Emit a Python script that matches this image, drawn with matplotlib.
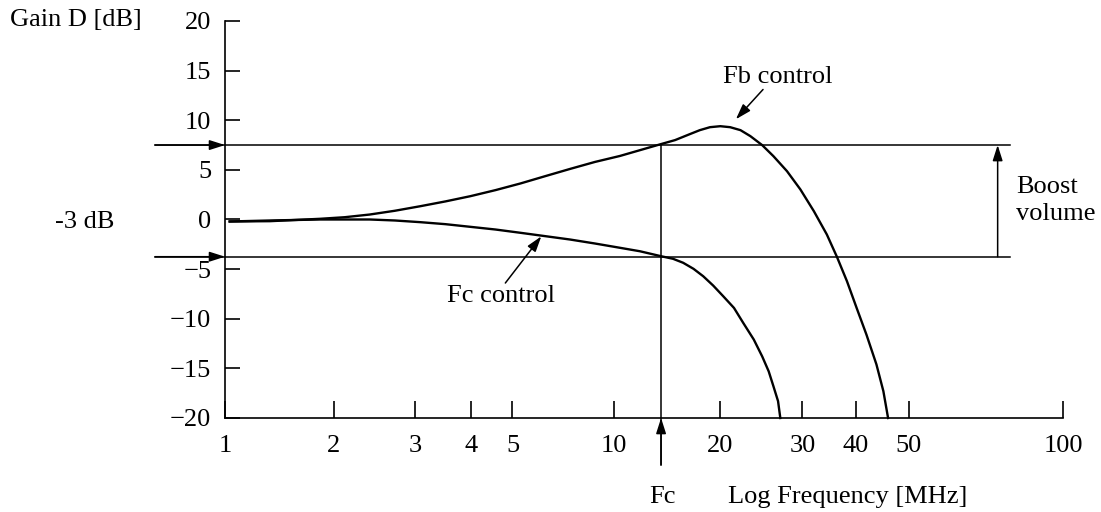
import numpy as np
import matplotlib.pyplot as plt
from matplotlib.ticker import NullLocator

plt.rcParams['font.family'] = ['Liberation Serif', 'DejaVu Serif']
plt.rcParams['font.size'] = 19

# frequency axis ticks (MHz) and gain ticks (dB)
freq_ticks = [1, 2, 3, 4, 5, 10, 20, 30, 40, 50, 100]
freq_labels = ['1', '2', '3', '4', '5', '10', '20', '30', '40', '50', '100']
gain_ticks = [-20, -15, -10, -5, 0, 5, 10, 15, 20]
gain_labels = ['\u221220', '\u221215', '\u221210', '\u22125', '0', '5', '10', '15', '20']

# Fb control curve
fb_freq = [1.03, 1.33, 1.83, 2.11, 2.39, 2.71, 3.08, 3.50, 3.98, 4.56, 5.28, 6.26,
           7.42, 8.79, 10.4, 13.6, 14.9, 16.4, 17.5, 18.7, 20.0, 21.0, 22.1, 23.2,
           24.6, 26.0, 27.8, 29.7, 31.9, 34.2, 36.1, 38.1, 40.1, 41.8, 43.6, 44.9, 45.8]
fb_gain = [-0.2, -0.17, 0.07, 0.23, 0.5, 0.88, 1.34, 1.82, 2.35, 2.96, 3.63, 4.37,
           5.1, 5.8, 6.4, 7.6, 8.0, 8.6, 9.0, 9.3, 9.4, 9.3, 9.0, 8.4,
           7.49, 6.38, 4.87, 3.03, 0.84, -1.51, -3.76, -6.22, -8.91, -11.6, -14.6, -17.3, -20.0]

# Fc control curve
fc_freq = [1.03, 1.33, 1.83, 2.39, 2.71, 3.08, 3.50, 3.98, 4.56, 5.28, 6.26, 7.42,
           8.79, 10.4, 11.85, 13.6, 14.7, 15.7, 16.8, 17.9, 19.1, 20.3, 21.4, 22.4,
           23.6, 24.6, 25.4, 26.0, 26.6, 26.9]
fc_gain = [-0.2, -0.1, 0.0, 0.0, -0.1, -0.27, -0.47, -0.74, -1.01, -1.34, -1.68, -2.02,
           -2.42, -2.85, -3.2, -3.7, -3.96, -4.36, -4.97, -5.72, -6.66, -7.74, -8.91, -10.42,
           -12.1, -13.8, -15.3, -16.8, -18.3, -20.0]

fc_mark = 13.6        # Fc frequency
boost_top = 7.5       # upper reference level, dB
boost_bottom = -3.75  # lower reference level, dB

# the hand-drawn log axis is not evenly spaced; follow the drawn tick spacing
tick_frac = [0, 0.130, 0.227, 0.294, 0.343, 0.464, 0.591, 0.689, 0.753, 0.816, 1.0]
log_ticks = np.log10(freq_ticks)


def fwd(x):
    x = np.clip(np.asarray(x, dtype=float), 1e-3, None)
    return np.interp(np.log10(x), log_ticks, tick_frac)


def inv(f):
    return 10 ** np.interp(f, tick_frac, log_ticks)


fig = plt.figure(figsize=(11.01, 5.12), dpi=100)
ax = fig.add_axes([0.2044, 0.1836, 0.7611, 0.7754])
ax.set_xscale('function', functions=(fwd, inv))
ax.set_xlim(1, 100)
ax.set_ylim(-20, 20)

ax.set_xticks(freq_ticks)
ax.set_xticklabels(freq_labels)
ax.xaxis.set_minor_locator(NullLocator())
ax.set_yticks(gain_ticks)
ax.set_yticklabels(gain_labels)

for s in ['top', 'right']:
    ax.spines[s].set_visible(False)
for s in ['left', 'bottom']:
    ax.spines[s].set_linewidth(1.2)
ax.tick_params(axis='y', direction='in', length=11, width=1.2, pad=10)
ax.tick_params(axis='x', direction='in', length=12, width=1.2, pad=12)

ax.plot(fb_freq, fb_gain, color='k', lw=1.7, clip_on=False)
ax.plot(fc_freq, fc_gain, color='k', lw=1.7, clip_on=False)

ytr = ax.get_yaxis_transform()
head = dict(arrowstyle='-|>,head_length=0.47,head_width=0.15', color='k',
            lw=1.1, shrinkA=0, shrinkB=0, mutation_scale=20)

# reference levels with arrows at the gain axis
for lvl in [boost_top, boost_bottom]:
    ax.plot([-0.0835, 0.937], [lvl, lvl], transform=ytr, color='k', lw=1.1, clip_on=False)
    ax.annotate('', xy=(0, lvl), xycoords=ytr, xytext=(-0.0835, lvl), textcoords=ytr,
                arrowprops=head, annotation_clip=False)

# Fc marker
ax.plot([fc_mark, fc_mark], [boost_top, -24.7], color='k', lw=1.1, clip_on=False)
ax.annotate('', xy=(fc_mark, -20), xytext=(fc_mark, -24.7),
            arrowprops=head, annotation_clip=False)

# boost volume arrow
ax.annotate('', xy=(0.922, boost_top), xycoords=ytr, xytext=(0.922, boost_bottom),
            textcoords=ytr, arrowprops=head, annotation_clip=False)
ax.text(0.944, 1.9, 'Boost\nvolume', transform=ytr, ha='left', va='center',
        linespacing=1.3, clip_on=False)

# curve labels
ax.text(26.6, 14.4, 'Fb control', ha='center', va='center')
ax.annotate('', xy=(21.6, 10.1), xytext=(24.7, 13.1), arrowprops=head)
ax.text(4.71, -7.7, 'Fc control', ha='center', va='center')
ax.annotate('', xy=(6.09, -1.7), xytext=(4.81, -6.4), arrowprops=head)

fig.text(10 / 1101, 1 - 20 / 512, 'Gain D [dB]', ha='left', va='center')
fig.text(55 / 1101, 1 - 222 / 512, '-3 dB', ha='left', va='center')
fig.text(662 / 1101, 1 - 497 / 512, 'Fc', ha='center', va='center')
fig.text(728 / 1101, 1 - 497 / 512, 'Log Frequency [MHz]', ha='left', va='center')

fig.savefig('out.png', dpi=100, facecolor='white')
